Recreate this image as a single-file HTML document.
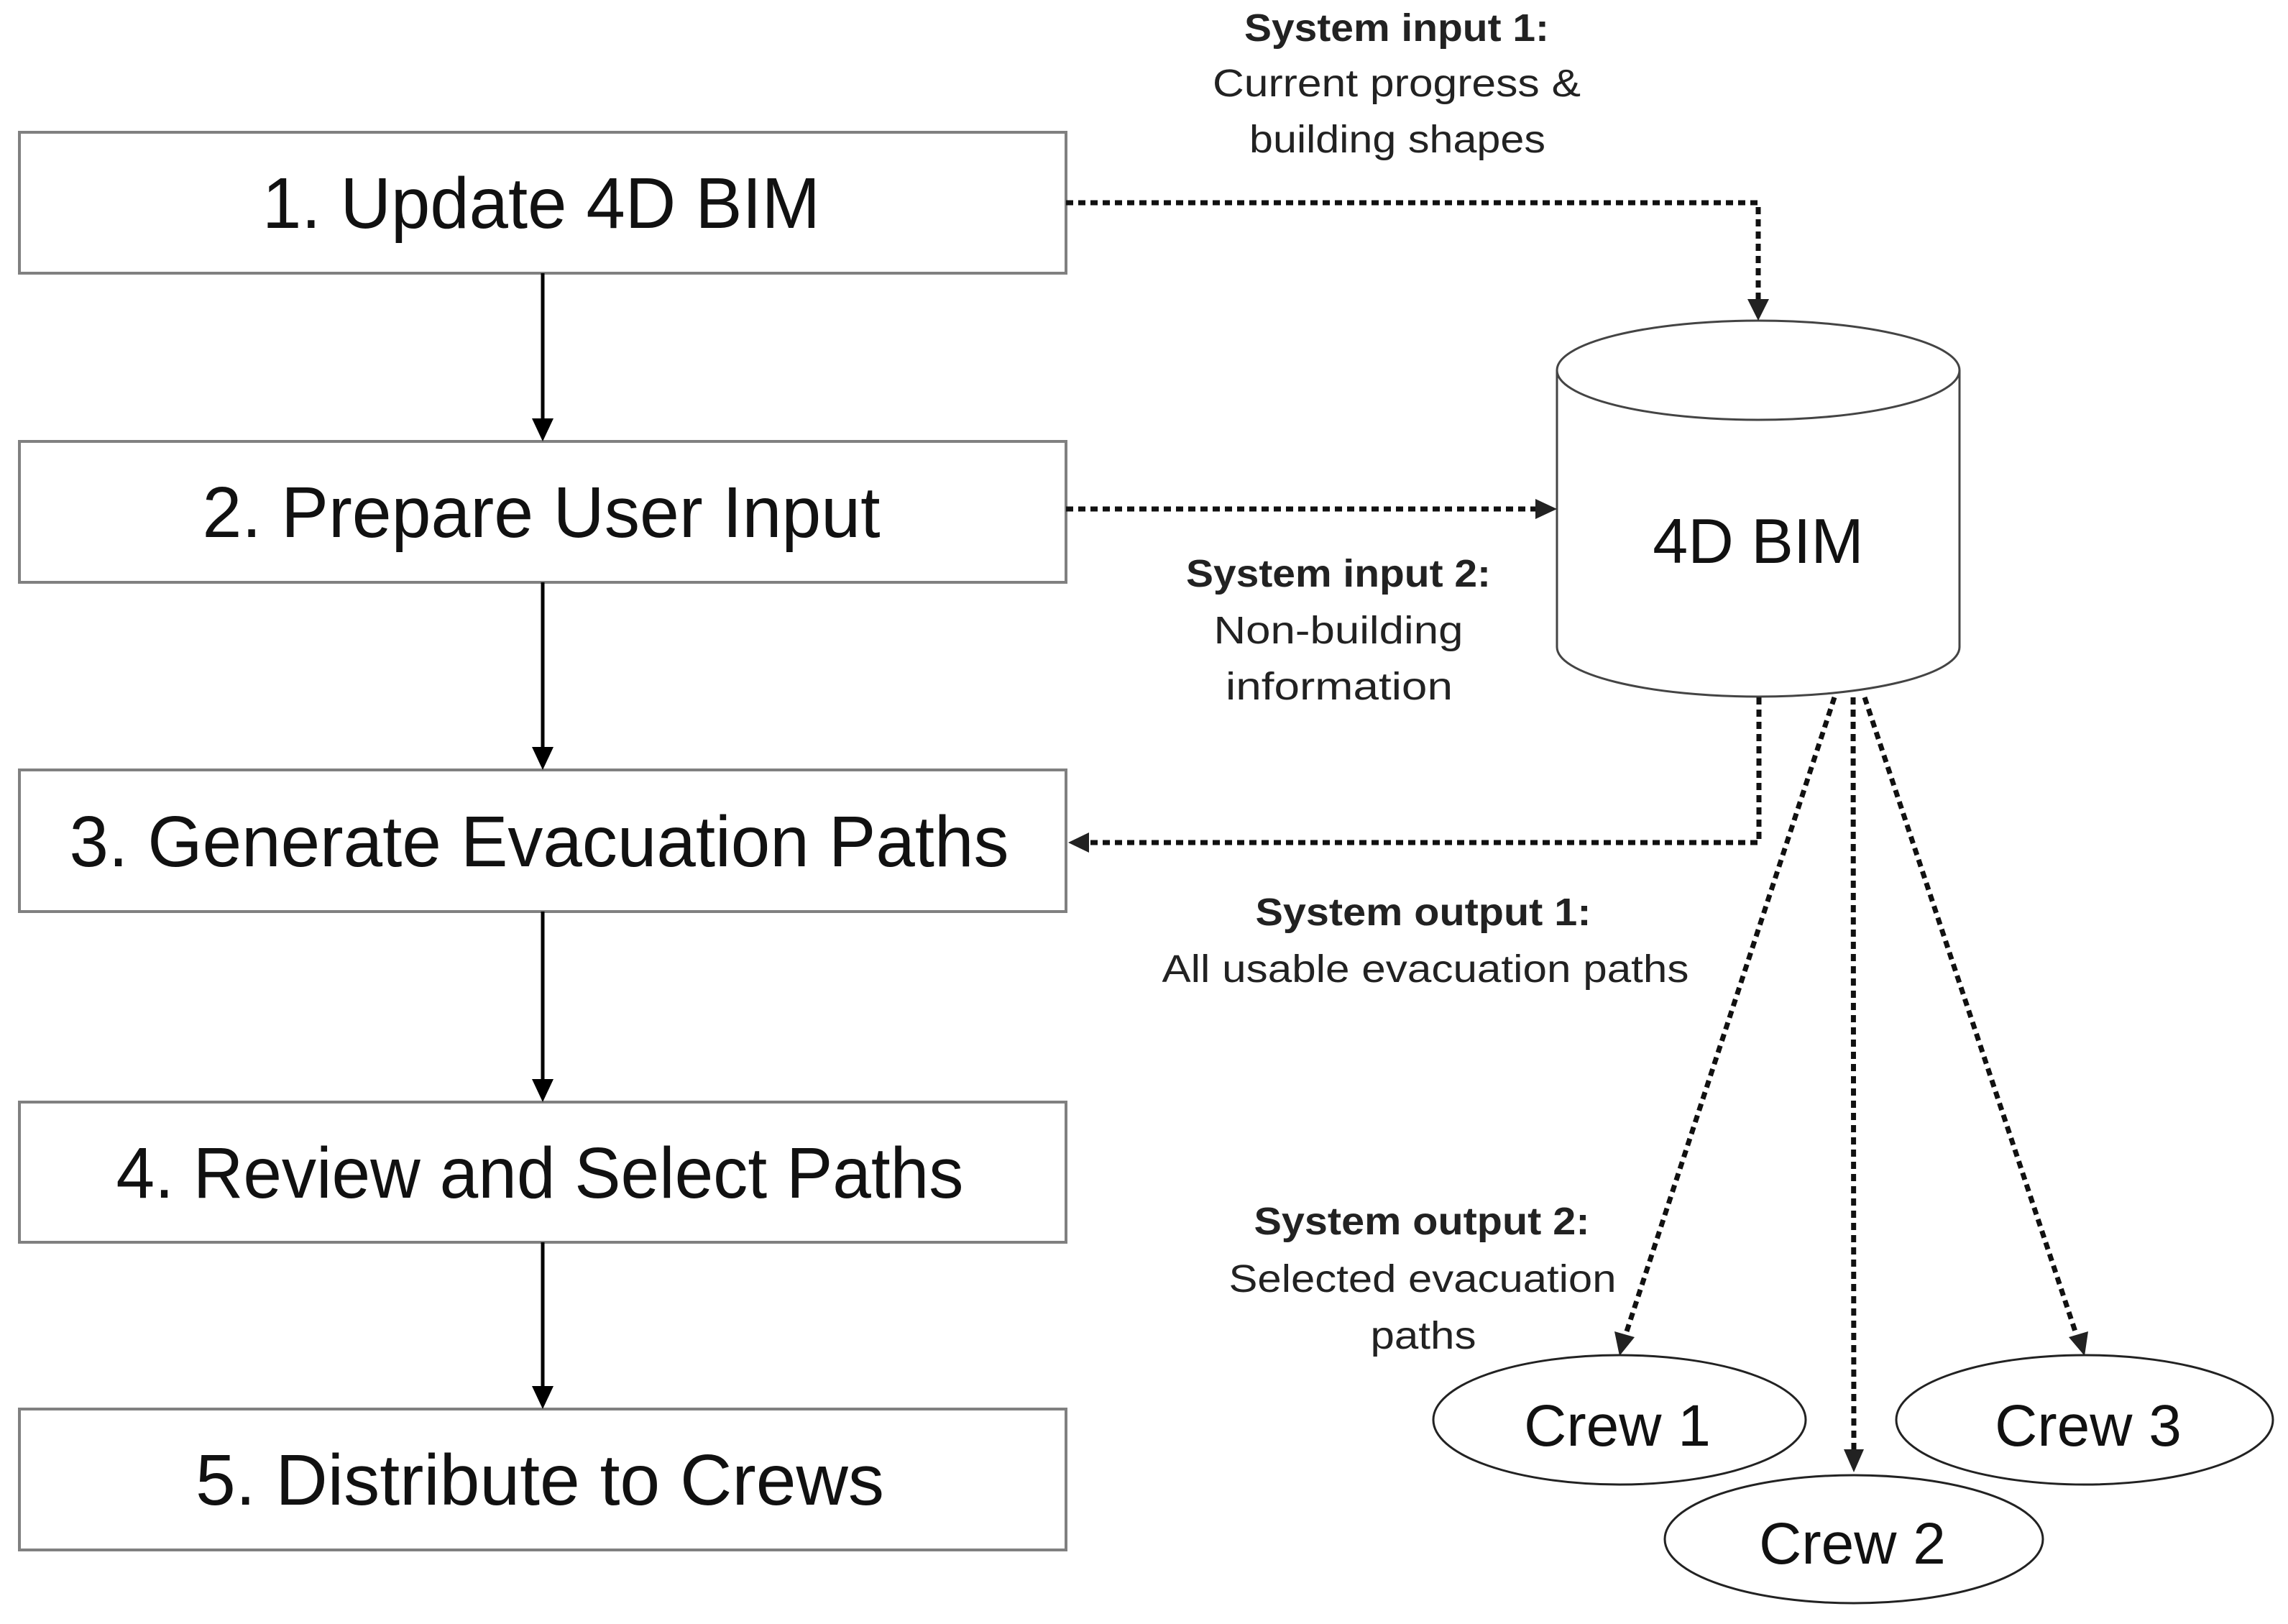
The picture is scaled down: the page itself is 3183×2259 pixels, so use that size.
<!DOCTYPE html>
<html><head><meta charset="utf-8"><style>html,body{margin:0;padding:0;background:#fff}svg{display:block}</style></head>
<body>
<svg width="3183" height="2259" viewBox="0 0 3183 2259" xmlns="http://www.w3.org/2000/svg">
<g fill="#fff" stroke="#808080" stroke-width="4">
<rect x="27" y="184" width="1456" height="196"/>
<rect x="27" y="614" width="1456" height="196"/>
<rect x="27" y="1071" width="1456" height="197"/>
<rect x="27" y="1533" width="1456" height="195"/>
<rect x="27" y="1960" width="1456" height="196"/>
</g>
<g font-family="'Liberation Sans Narrow','Liberation Sans',sans-serif" font-size="100" fill="#111" text-anchor="middle">
<text x="753" y="317" textLength="776" lengthAdjust="spacingAndGlyphs">1. Update 4D BIM</text>
<text x="753" y="747" textLength="943" lengthAdjust="spacingAndGlyphs">2. Prepare User Input</text>
<text x="750" y="1205" textLength="1307" lengthAdjust="spacingAndGlyphs">3. Generate Evacuation Paths</text>
<text x="751" y="1666" textLength="1179" lengthAdjust="spacingAndGlyphs">4. Review and Select Paths</text>
<text x="751" y="2093" textLength="958" lengthAdjust="spacingAndGlyphs">5. Distribute to Crews</text>
</g>
<g stroke="#000" stroke-width="5">
<line x1="755" y1="380" x2="755" y2="585"/>
<line x1="755" y1="810" x2="755" y2="1042"/>
<line x1="755" y1="1268" x2="755" y2="1504"/>
<line x1="755" y1="1728" x2="755" y2="1931"/>
</g>
<g fill="#000">
<polygon points="740,582 770,582 755,614"/>
<polygon points="740,1039 770,1039 755,1071"/>
<polygon points="740,1501 770,1501 755,1533"/>
<polygon points="740,1928 770,1928 755,1960"/>
</g>
<g fill="#fff" stroke="#444" stroke-width="3">
<path d="M2166,515 L2166,900 A280,69 0 0 0 2726,900 L2726,515"/>
<ellipse cx="2446" cy="515" rx="280" ry="69"/>
</g>
<text x="2446" y="783" font-family="'Liberation Sans',sans-serif" font-size="88" text-anchor="middle" fill="#111">4D BIM</text>
<g stroke="#111" stroke-width="7" fill="none" stroke-dasharray="10 7">
<polyline points="1483,282 2446,282 2446,420"/>
<line x1="1483" y1="708" x2="2140" y2="708"/>
<polyline points="2447,970 2447,1172 1515,1172"/>
<line x1="2552" y1="970" x2="2262" y2="1855"/>
<line x1="2578" y1="970" x2="2579" y2="2018"/>
<line x1="2594" y1="970" x2="2888" y2="1855"/>
</g>
<g fill="#222">
<polygon points="2431,416 2461,416 2446,446"/>
<polygon points="2136,694 2136,722 2166,708"/>
<polygon points="1515,1158 1515,1186 1486,1172"/>
<polygon points="2246,1852 2274,1860 2253,1886"/>
<polygon points="2565,2016 2593,2016 2579,2048"/>
<polygon points="2878,1860 2905,1852 2900,1886"/>
</g>
<g fill="#fff" stroke="#222" stroke-width="3">
<ellipse cx="2253" cy="1975" rx="259" ry="90"/>
<ellipse cx="2900" cy="1975" rx="262" ry="90"/>
<ellipse cx="2579" cy="2141" rx="263" ry="89"/>
</g>
<g font-family="'Liberation Sans',sans-serif" font-size="82" text-anchor="middle" fill="#111">
<text x="2250" y="2011">Crew 1</text>
<text x="2905" y="2011">Crew 3</text>
<text x="2577" y="2175">Crew 2</text>
</g>
<g font-family="'Liberation Sans Narrow','Liberation Sans',sans-serif" font-size="54" text-anchor="middle" fill="#222">
<text x="1943" y="57" font-weight="bold" textLength="424" lengthAdjust="spacingAndGlyphs">System input 1:</text>
<text x="1943" y="134" textLength="512" lengthAdjust="spacingAndGlyphs">Current progress &amp;</text>
<text x="1944" y="212" textLength="412" lengthAdjust="spacingAndGlyphs">building shapes</text>
<text x="1862" y="816" font-weight="bold" textLength="424" lengthAdjust="spacingAndGlyphs">System input 2:</text>
<text x="1862" y="895" textLength="347" lengthAdjust="spacingAndGlyphs">Non-building</text>
<text x="1863" y="973" textLength="316" lengthAdjust="spacingAndGlyphs">information</text>
<text x="1980" y="1287" font-weight="bold" textLength="467" lengthAdjust="spacingAndGlyphs">System output 1:</text>
<text x="1983" y="1366" textLength="733" lengthAdjust="spacingAndGlyphs">All usable evacuation paths</text>
<text x="1978" y="1717" font-weight="bold" textLength="467" lengthAdjust="spacingAndGlyphs">System output 2:</text>
<text x="1979" y="1797" textLength="539" lengthAdjust="spacingAndGlyphs">Selected evacuation</text>
<text x="1980" y="1876" textLength="147" lengthAdjust="spacingAndGlyphs">paths</text>
</g>
</svg>
</body></html>
